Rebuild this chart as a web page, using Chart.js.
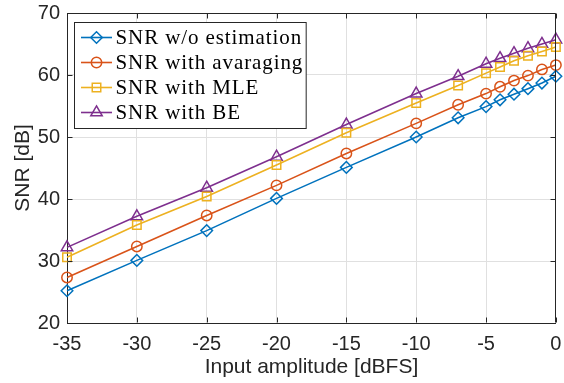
<!DOCTYPE html>
<html><head><meta charset="utf-8">
<script src="https://cdn.jsdelivr.net/npm/chart.js@4/dist/chart.umd.min.js"></script>
<style>html,body{margin:0;padding:0;background:#fff}#wrap{width:564px;height:383px}</style>
</head><body><div id="wrap"><canvas id="c" width="564" height="383"></canvas></div>
<script>
// ---- data ----
const inputAmplitude = [-35, -30, -25, -20, -15, -10, -7, -5, -4, -3, -2, -1, 0];
const snrNoEstimation = [25.2, 30.1, 34.9, 40.1, 45.1, 50.0, 53.1, 54.9, 56.0, 56.9, 57.8, 58.7, 59.8];
const snrAveraging    = [27.35, 32.35, 37.35, 42.2, 47.35, 52.2, 55.2, 57.0, 58.1, 59.1, 59.9, 60.9, 61.6];
const snrMLE          = [30.6, 35.8, 40.4, 45.5, 50.7, 55.5, 58.3, 60.3, 61.3, 62.3, 63.1, 63.8, 64.5];
const snrBE           = [32.2, 37.2, 41.8, 46.8, 52.0, 57.0, 59.8, 61.8, 62.7, 63.5, 64.3, 65.0, 65.7];
const seriesLabels = ['SNR w/o estimation', 'SNR with avaraging', 'SNR with MLE', 'SNR with BE'];
const xTickValues = [-35, -30, -25, -20, -15, -10, -5, 0];
const yTickValues = [20, 30, 40, 50, 60, 70];
const xTitle = 'Input amplitude [dBFS]';
const yTitle = 'SNR [dB]';

// ---- styles ----
const colors = ['#0072BD', '#D95319', '#EDB120', '#7E2F8E'];
const markerStyles = ['rectRot', 'circle', 'rect', 'triangle'];
const markerRadii = [5.8, 5.2, 6.0, 6.6];
const seriesValues = [snrNoEstimation, snrAveraging, snrMLE, snrBE];
const axisColor = '#262626';

const datasets = seriesValues.map((vals, i) => ({
  label: seriesLabels[i],
  data: inputAmplitude.map((x, k) => ({x: x, y: vals[k]})),
  borderColor: colors[i],
  backgroundColor: colors[i],
  borderWidth: 1.6,
  pointStyle: markerStyles[i],
  pointRadius: markerRadii[i],
  pointHoverRadius: markerRadii[i],
  pointBorderWidth: 1.5,
  pointBorderColor: colors[i],
  pointBackgroundColor: 'rgba(0,0,0,0)',
  tension: 0,
  clip: false
}));

const framePlugin = {
  id: 'frameLegend',
  afterDraw(chart) {
    const {ctx, chartArea: a, scales} = chart;
    const xs = scales.x, ys = scales.y;
    ctx.save();
    ctx.strokeStyle = axisColor;
    ctx.lineWidth = 1;
    const L = Math.round(a.left) + 0.5, R = Math.round(a.right) - 0.5;
    const T = Math.round(a.top) + 0.5, B = Math.round(a.bottom) - 0.5;
    ctx.beginPath();
    ctx.moveTo(L, T); ctx.lineTo(R, T); ctx.lineTo(R, B);
    xs.ticks.forEach(t => {
      const p = Math.round(xs.getPixelForValue(t.value)) + 0.5;
      ctx.moveTo(p, B); ctx.lineTo(p, B - 5);
      ctx.moveTo(p, T); ctx.lineTo(p, T + 5);
    });
    ys.ticks.forEach(t => {
      const p = Math.round(ys.getPixelForValue(t.value)) + 0.5;
      ctx.moveTo(L, p); ctx.lineTo(L + 5, p);
      ctx.moveTo(R, p); ctx.lineTo(R - 5, p);
    });
    ctx.stroke();

    // legend
    const font = '21px "Liberation Serif"';
    ctx.font = font;
    ctx.letterSpacing = '0.9px';
    const labels = chart.data.datasets.map(d => d.label);
    const maxW = Math.max(...labels.map(s => ctx.measureText(s).width));
    const bx = Math.round(a.left) + 7.5, by = Math.round(a.top) + 9.5;
    const bw = 41 + maxW + 3, rowH = 25, bh = 15 + rowH * (labels.length - 1) + 16;
    ctx.fillStyle = '#fff';
    ctx.fillRect(bx, by, bw, bh);
    ctx.strokeStyle = axisColor;
    ctx.strokeRect(bx, by, bw, bh);
    chart.data.datasets.forEach((d, i) => {
      const ry = by + 15 + i * rowH;
      ctx.strokeStyle = d.borderColor;
      ctx.lineWidth = 1.6;
      ctx.beginPath();
      ctx.moveTo(bx + 6.5, ry); ctx.lineTo(bx + 37.5, ry);
      ctx.stroke();
      ctx.fillStyle = 'rgba(0,0,0,0)';
      ctx.lineWidth = d.pointBorderWidth;
      Chart.helpers.drawPoint(ctx, {pointStyle: d.pointStyle, rotation: 0, radius: d.pointRadius, borderWidth: d.pointBorderWidth}, bx + 22, ry);
      ctx.fillStyle = '#000';
      ctx.font = font;
      ctx.textBaseline = 'middle';
      ctx.textAlign = 'left';
      ctx.fillText(d.label, bx + 41, ry + 1);
    });
    ctx.restore();
  }
};

new Chart(document.getElementById('c'), {
  type: 'line',
  data: {datasets},
  options: {
    responsive: false,
    devicePixelRatio: 1,
    animation: false,
    layout: {padding: {top: 13, right: 6, left: 0, bottom: 0}},
    plugins: {legend: {display: false}, tooltip: {enabled: false}},
    scales: {
      x: {
        type: 'linear',
        min: -35, max: 0,
        afterBuildTicks: s => { s.ticks = xTickValues.map(v => ({value: v})); },
        afterFit: s => { s.height = 60; s.paddingLeft = 0; s.paddingRight = 0; },
        grid: {color: '#e0e0e0', lineWidth: 1, drawTicks: false},
        border: {color: axisColor, width: 1},
        ticks: {color: axisColor, font: {family: '"Liberation Sans", Arial', size: 20}, padding: 9, maxRotation: 0},
        title: {display: true, text: xTitle, color: axisColor, font: {family: '"Liberation Sans", Arial', size: 21}, padding: {top: 0, bottom: 3}}
      },
      y: {
        type: 'linear',
        min: 20, max: 70,
        afterBuildTicks: s => { s.ticks = yTickValues.map(v => ({value: v})); },
        afterFit: s => { s.width = 67; s.paddingTop = 0; s.paddingBottom = 0; },
        grid: {color: '#e0e0e0', lineWidth: 1, drawTicks: false},
        border: {color: axisColor, width: 1},
        ticks: {color: axisColor, font: {family: '"Liberation Sans", Arial', size: 20}, padding: 7},
        title: {display: true, text: yTitle, color: axisColor, font: {family: '"Liberation Sans", Arial', size: 21}, padding: {top: 11, bottom: 0}}
      }
    }
  },
  plugins: [framePlugin]
});
</script>
</body></html>
